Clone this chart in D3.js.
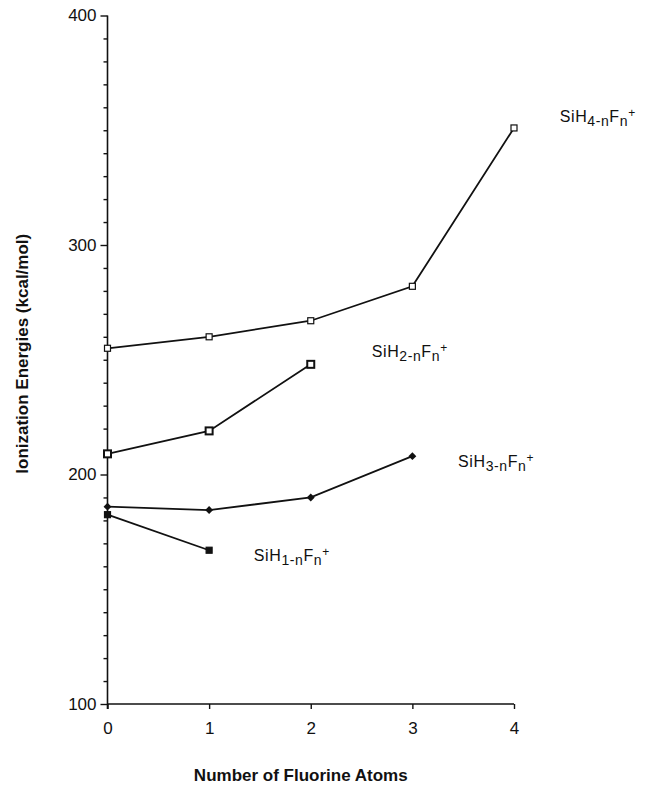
<!DOCTYPE html>
<html>
<head>
<meta charset="utf-8">
<script src="https://cdn.jsdelivr.net/npm/d3@7"></script>
<style>
  html, body { margin: 0; padding: 0; background: #fff; }
  text { font-family: "Liberation Sans", Arial, Helvetica, sans-serif; fill: #111; }
</style>
</head>
<body>
<div id="chart"></div>
<script>
// DATA
const fluorine = [0, 1, 2, 3, 4]
const xTicks = [0, 1, 2, 3, 4]
const yTicks = [100, 200, 300, 400]
const yMinorTicks = [110, 120, 130, 140, 150, 160, 170, 180, 190,
                     210, 220, 230, 240, 250, 260, 270, 280, 290,
                     310, 320, 330, 340, 350, 360, 370, 380, 390]
const sih4 = [255, 260, 267, 282, 351]
const sih3 = [186, 184.5, 190, 208]
const sih2 = [209, 219, 248]
const sih1 = [182.5, 167]

// SIZE
const W = 649, H = 785
const X0 = 107.5, X1 = 514
const Y_BOTTOM = 704, Y_TOP = 15.5

const svg = d3.select("#chart").append("svg")
  .attr("width", W)
  .attr("height", H)

const x = d3.scaleLinear().domain([0, 4]).range([X0, X1])
const y = d3.scaleLinear().domain([100, 400]).range([Y_BOTTOM, Y_TOP])

// AXES
// y axis: minor ticks every 10, major every 100
const yMinor = d3.axisLeft(y)
  .tickValues(yMinorTicks)
  .tickSize(4)
  .tickFormat(() => "")
svg.append("g").attr("class", "minor")
  .attr("transform", `translate(${X0},0)`)
  .call(yMinor)

const yAxis = d3.axisLeft(y).tickValues(yTicks).tickSize(7).tickPadding(4)
svg.append("g").attr("class", "y axis")
  .attr("transform", `translate(${X0},0)`)
  .call(yAxis)

const xAxis = d3.axisBottom(x).tickValues(xTicks).tickSize(5).tickPadding(13)
  .tickFormat(d3.format("d"))
svg.append("g").attr("class", "x axis")
  .attr("transform", `translate(0,${Y_BOTTOM})`)
  .call(xAxis)

svg.selectAll(".domain").remove()
svg.selectAll(".tick line").attr("stroke", "#111").attr("stroke-width", 1.4)
svg.selectAll(".axis text").attr("font-size", 17).attr("fill", "#111")

// axis lines drawn by hand so they meet at the origin like the original
svg.append("line")
  .attr("x1", X0).attr("x2", X0)
  .attr("y1", y(400)).attr("y2", y(100) + 5)
  .attr("stroke", "#111").attr("stroke-width", 1.6)
svg.append("line")
  .attr("x1", X0).attr("x2", x(4))
  .attr("y1", Y_BOTTOM).attr("y2", Y_BOTTOM)
  .attr("stroke", "#111").attr("stroke-width", 1.6)

// axis titles
svg.append("text")
  .attr("x", (X0 + X1) / 2 - 10)
  .attr("y", 781)
  .attr("text-anchor", "middle")
  .attr("font-size", 17)
  .attr("font-weight", "bold")
  .text("Number of Fluorine Atoms")

svg.append("text")
  .attr("transform", `translate(28,${(Y_TOP + Y_BOTTOM) / 2 - 6}) rotate(-90)`)
  .attr("text-anchor", "middle")
  .attr("font-size", 17)
  .attr("font-weight", "bold")
  .text("Ionization Energies (kcal/mol)")

// SERIES
const series = [
  { name: "4", values: sih4, marker: "openSquare" },
  { name: "2", values: sih2, marker: "boldSquare" },
  { name: "3", values: sih3, marker: "diamond" },
  { name: "1", values: sih1, marker: "filledSquare" }
]

const line = d3.line()
  .x((d, i) => x(fluorine[i]))
  .y(d => y(d))

series.forEach(s => {
  svg.append("path")
    .datum(s.values)
    .attr("fill", "none")
    .attr("stroke", "#111")
    .attr("stroke-width", 1.8)
    .attr("d", line)

  const pts = svg.selectAll(null)
    .data(s.values)
    .enter()

  if (s.marker === "diamond") {
    pts.append("path")
      .attr("d", d3.symbol().type(d3.symbolDiamond2).size(40))
      .attr("transform", (d, i) => `translate(${x(fluorine[i])},${y(d)})`)
      .attr("fill", "#111")
  } else {
    const size = s.marker === "boldSquare" ? 7 : 6
    pts.append("rect")
      .attr("x", (d, i) => x(fluorine[i]) - size / 2)
      .attr("y", d => y(d) - size / 2)
      .attr("width", size)
      .attr("height", size)
      .attr("fill", s.marker === "filledSquare" ? "#111" : "#fff")
      .attr("stroke", "#111")
      .attr("stroke-width", s.marker === "boldSquare" ? 2 : 1.2)
  }
})

// SERIES LABELS  (SiH(k-n)Fn+)
const labels = [
  { k: "4", at: [4.45, 353.6] },
  { k: "2", at: [2.60, 251.2] },
  { k: "3", at: [3.45, 203.3] },
  { k: "1", at: [1.44, 162.3] }
]

labels.forEach(l => {
  const t = svg.append("text")
    .attr("x", x(l.at[0]))
    .attr("y", y(l.at[1]))
    .attr("font-size", 16)
    .attr("letter-spacing", 0.6)
  t.append("tspan").text("SiH")
  t.append("tspan").attr("dy", 4).attr("font-size", 14).text(`${l.k}-n`)
  t.append("tspan").attr("dy", -4).text("F")
  t.append("tspan").attr("dy", 4).attr("font-size", 14).text("n")
  t.append("tspan").attr("dy", -9).attr("font-size", 12).text("+")
})
</script>
</body>
</html>
